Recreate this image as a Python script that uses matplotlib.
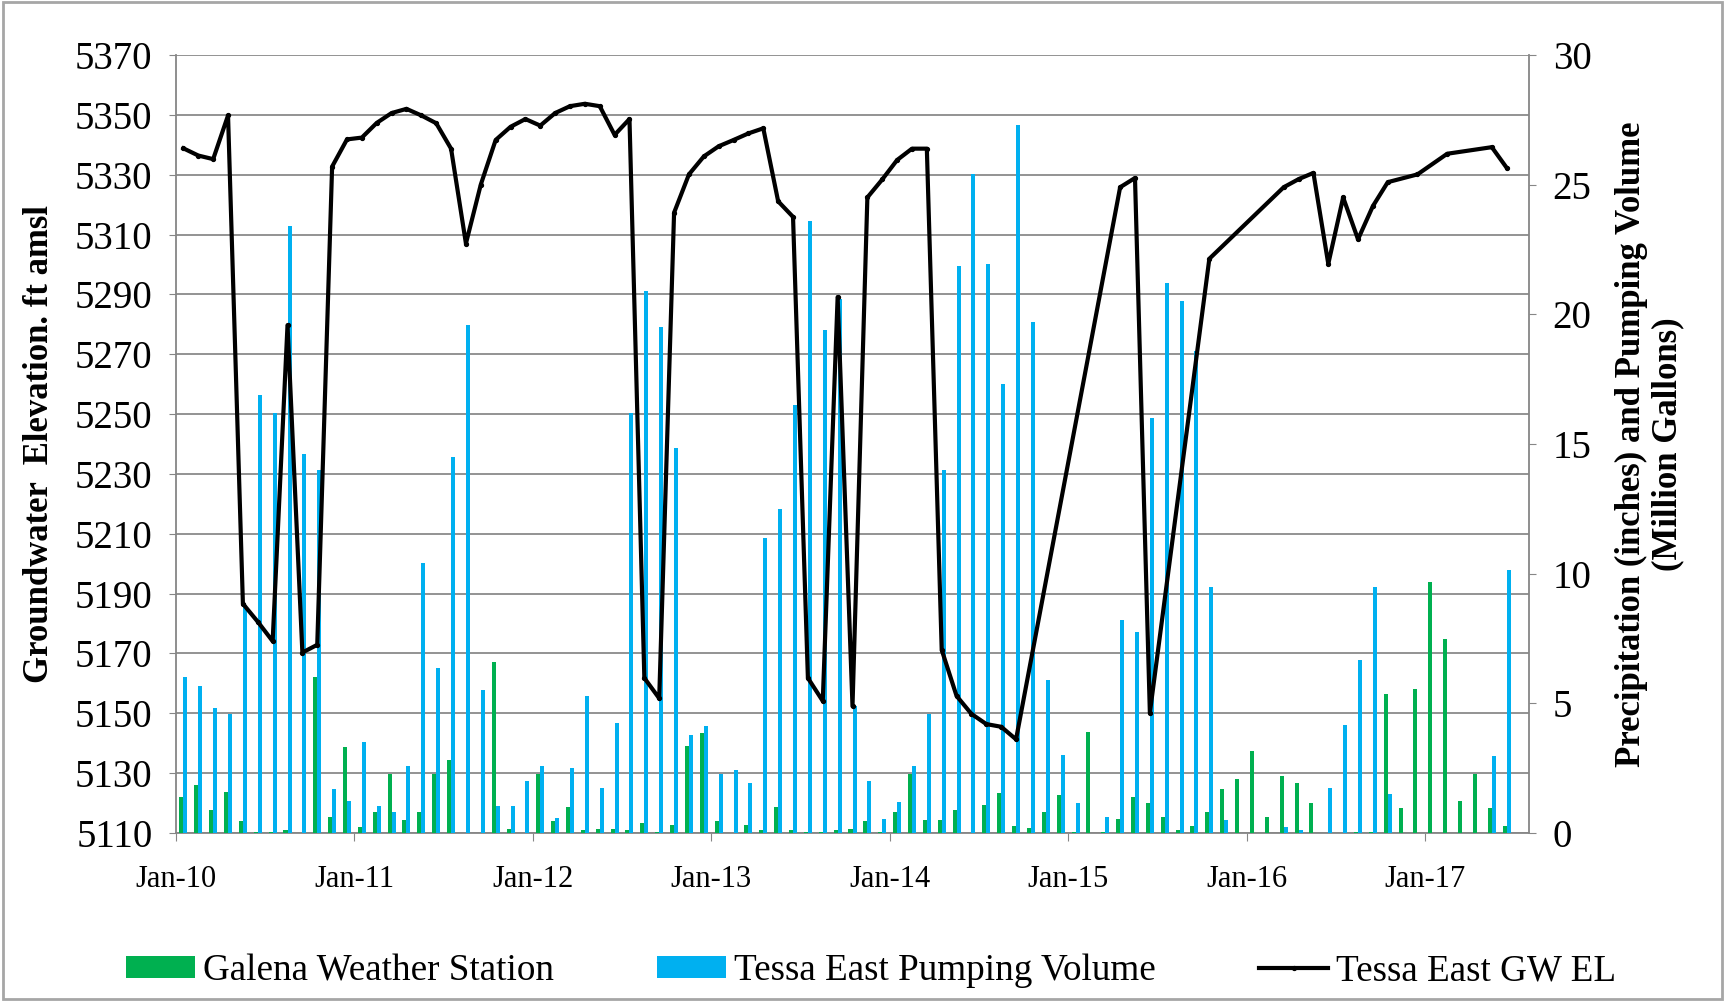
import matplotlib
matplotlib.use("Agg")
import matplotlib.pyplot as plt
from matplotlib.patches import Patch, Rectangle
from matplotlib.lines import Line2D
import numpy as np

plt.rcParams['font.family'] = ['Liberation Serif', 'DejaVu Serif']

# ---------------- data (monthly, Jan-2010 .. Jun-2017) ----------------
tick_labels = ["Jan-10", "Jan-11", "Jan-12", "Jan-13", "Jan-14", "Jan-15", "Jan-16", "Jan-17"]

galena_precip = [
    1.38, 1.87, 0.89, 1.60, 0.47, 0.05, 0.05, 0.10, 0.00, 6.00, 0.60, 3.30,   # 2010
    0.25, 0.80, 2.27, 0.50, 0.80, 2.27, 2.80, 0.00, 0.00, 6.60, 0.15, 0.00,   # 2011
    2.27, 0.45, 1.00, 0.10, 0.15, 0.15, 0.10, 0.40, 0.05, 0.30, 3.37, 3.85,   # 2012
    0.45, 0.00, 0.30, 0.10, 1.00, 0.10, 0.05, 0.05, 0.10, 0.15, 0.45, 0.05,   # 2013
    0.80, 2.27, 0.50, 0.50, 0.90, 0.00, 1.08, 1.54, 0.26, 0.20, 0.80, 1.48,   # 2014
    0.05, 3.90, 0.05, 0.55, 1.40, 1.15, 0.60, 0.10, 0.26, 0.80, 1.68, 2.07,   # 2015
    3.16, 0.60, 2.20, 1.93, 1.15, 0.00, 0.00, 0.05, 0.05, 5.35, 0.95, 5.54,   # 2016
    9.66, 7.50, 1.24, 2.27, 0.95, 0.26,                                       # 2017
]

tessa_pumping = [
    6.00, 5.68, 4.83, 4.60, 8.80, 16.90, 16.20, 23.40, 14.60, 14.00, 1.70, 1.24,
    3.50, 1.05, 0.80, 2.60, 10.40, 6.35, 14.50, 19.60, 5.50, 1.05, 1.05, 2.00,
    2.60, 0.57, 2.50, 5.30, 1.75, 4.26, 16.20, 20.90, 19.50, 14.85, 3.77, 4.14,
    2.27, 2.43, 1.93, 11.36, 12.50, 16.50, 23.60, 19.40, 20.60, 4.90, 2.00, 0.55,
    1.20, 2.60, 4.60, 14.00, 21.85, 25.40, 21.95, 17.30, 27.30, 19.70, 5.90, 3.00,
    1.15, 0.00, 0.60, 8.20, 7.75, 16.00, 21.20, 20.50, 18.60, 9.50, 0.50, 0.00,
    0.00, 0.00, 0.25, 0.10, 0.00, 1.74, 4.16, 6.67, 9.50, 1.52, 0.00, 0.00,
    0.00, 0.00, 0.00, 0.00, 2.98, 10.16,
]

N = None
tessa_gw_el = [
    5338.8, 5336.4, 5335.2, 5349.8, 5186.6, 5180.6, 5174.1, 5279.7, 5170.3, 5172.9, 5332.7, 5341.8,
    5342.4, 5347.3, 5350.6, 5352.0, 5349.8, 5347.2, 5338.7, 5307.0, 5326.7, 5341.6, 5346.0, 5348.6,
    5346.4, 5350.6, 5352.9, 5353.7, 5352.9, 5343.3, 5348.6, 5161.8, 5155.0, 5317.3, 5330.1, 5336.1,
    5339.5, 5341.6, 5343.8, 5345.5, 5321.1, 5315.9, 5161.8, 5154.1, 5289.1, 5152.4, 5322.4, 5328.4,
    5334.9, 5338.7, 5338.7, 5171.2, 5155.8, 5149.8, 5146.4, 5145.5, 5141.3, N, N, N,
    N, N, N, 5325.8, 5328.9, 5150.2, N, N, N, 5301.9, N, N,
    N, N, 5325.8, 5328.5, 5330.6, 5300.2, 5322.4, 5308.4, 5319.5, 5327.5, N, 5330.1,
    N, 5337.0, N, N, 5339.2, 5332.3,
]

n_slots = 91  # Jan-10 .. Jul-17 on the category axis

# ---------------- figure ----------------
W, H = 1725, 1001
fig = plt.figure(figsize=(W / 100, H / 100), dpi=100)
fig.patches.append(Rectangle((0.0015, 0.002), 0.997, 0.996, transform=fig.transFigure,
                             fill=False, edgecolor='#a6a6a6', lw=2.0))

ax = fig.add_axes([176 / W, 1 - 833 / H, 1353 / W, 778 / H])
grid_c = '#8a8a8a'
axis_c = '#868686'

ax.set_xlim(0, n_slots)
ax.set_ylim(5110, 5370)
ax.set_yticks(np.arange(5110, 5371, 20))
ax.set_xticks(np.arange(0, 12 * len(tick_labels), 12))
ax.set_xticklabels(tick_labels)
ax.yaxis.grid(True, color=grid_c, lw=1.3)
ax.set_axisbelow(True)
for s in ['top', 'right']:
    ax.spines[s].set_visible(False)
for s in ['left', 'bottom']:
    ax.spines[s].set_color(axis_c)
    ax.spines[s].set_linewidth(1.3)
ax.tick_params(axis='y', labelsize=28, length=5, color=axis_c, pad=12)
ax.tick_params(axis='x', labelsize=22, length=6, color=axis_c, pad=17)
ax.set_ylabel("Groundwater  Elevation. ft amsl", fontsize=25, fontweight='bold')
ax.yaxis.set_label_coords(-0.089, 0.5)

# bars on secondary axis
ax2 = ax.twinx()
ax2.set_ylim(0, 30)
ax2.set_yticks(np.arange(0, 31, 5))
for s in ['top', 'left', 'bottom']:
    ax2.spines[s].set_visible(False)
ax2.spines['right'].set_color(axis_c)
ax2.spines['right'].set_linewidth(1.3)
ax2.tick_params(axis='y', labelsize=28, length=5, color=axis_c, pad=12)
ax2.set_ylabel("Precipitation (inches) and Pumping Volume\n(Million Gallons)",
               fontsize=25, fontweight='bold', linespacing=1.12)
ax2.yaxis.set_label_coords(1.0636, 0.5)

x_g = np.arange(len(galena_precip)) + 0.5
x_b = np.arange(len(tessa_pumping)) + 0.5
bw = 0.27
green = '#00B050'
blue = '#00B0F0'
ax2.bar(x_g - bw / 2, galena_precip, width=bw, color=green, linewidth=0)
ax2.bar(x_b + bw / 2, tessa_pumping, width=bw, color=blue, linewidth=0)

# line on a third overlay axis sharing the elevation scale
ax3 = ax.twinx()
ax3.set_ylim(ax.get_ylim())
ax3.axis('off')
gw = np.array([np.nan if v is None else v for v in tessa_gw_el], dtype=float)
xl = np.arange(len(gw)) + 0.5
m = ~np.isnan(gw)
ax3.plot(xl[m], gw[m], color='black', lw=3.0, marker='o', markersize=2.8,
         solid_joinstyle='round', clip_on=False)

# legend
handles = [Patch(facecolor=green, edgecolor='none'),
           Patch(facecolor=blue, edgecolor='none'),
           Line2D([0], [0], color='black', lw=3.0, marker='o', markersize=2.8)]
labels = ["Galena Weather Station", "Tessa East Pumping Volume", "Tessa East GW EL"]
fig.legend(handles, labels, loc='center', bbox_to_anchor=(0.505, 0.030), ncol=3,
           frameon=False, fontsize=26.7, handlelength=1.86, handleheight=0.5,
           handletextpad=0.2, columnspacing=2.8)

fig.savefig("out.png", dpi=100)
